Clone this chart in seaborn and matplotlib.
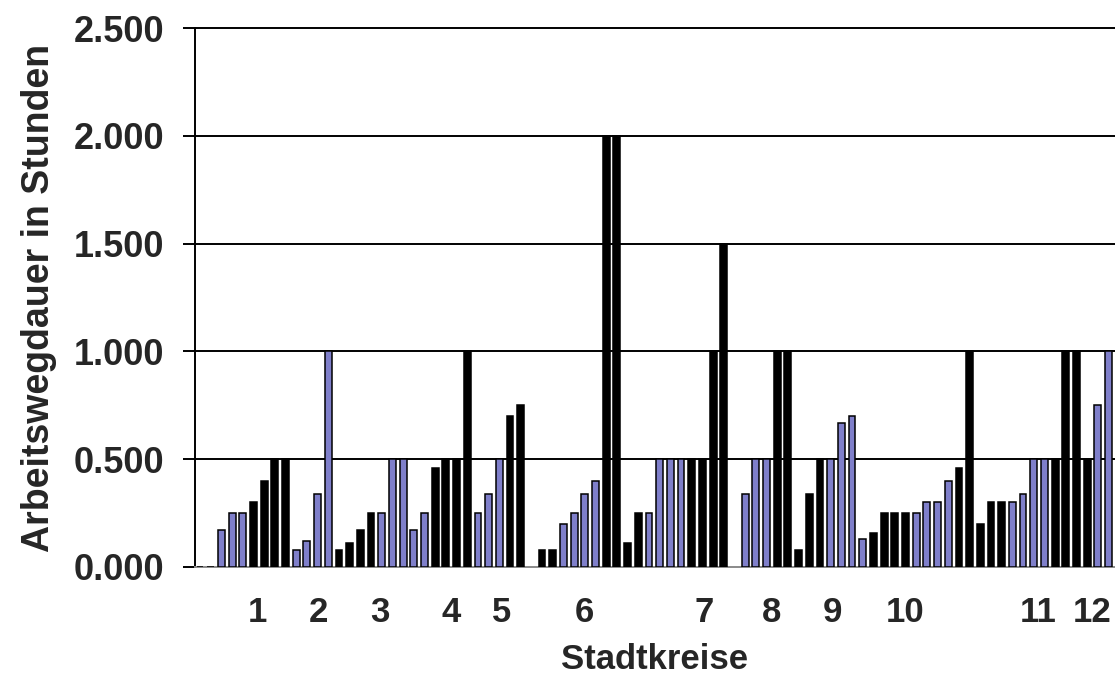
import matplotlib
matplotlib.use("Agg")
import matplotlib.pyplot as plt
import seaborn as sns
import pandas as pd

# Commute durations (hours) per survey slot; slots 31 and 50 are empty separators
slots = list(range(86))
values = [
    0.0, 0.0, 0.17, 0.25, 0.25, 0.30, 0.40, 0.50, 0.50, 0.08,
    0.12, 0.34, 1.00, 0.08, 0.11, 0.17, 0.25, 0.25, 0.50, 0.50,
    0.17, 0.25, 0.46, 0.50, 0.50, 1.00, 0.25, 0.34, 0.50, 0.70,
    0.75, None, 0.08, 0.08, 0.20, 0.25, 0.34, 0.40, 2.00, 2.00,
    0.11, 0.25, 0.25, 0.50, 0.50, 0.50, 0.50, 0.50, 1.00, 1.50,
    None, 0.34, 0.50, 0.50, 1.00, 1.00, 0.08, 0.34, 0.50, 0.50,
    0.67, 0.70, 0.13, 0.16, 0.25, 0.25, 0.25, 0.25, 0.30, 0.30,
    0.40, 0.46, 1.00, 0.20, 0.30, 0.30, 0.30, 0.34, 0.50, 0.50,
    0.50, 1.00, 1.00, 0.50, 0.75, 1.00,
]
# 'b' = blue-filled bar, 'k' = black bar, '-' = empty slot
kinds = (
    "kkbbbkkkkb" "bbbkkkkbbb" "bbkkkkbbbk" "k-kkbbbbkk"
    "kkbbbbkkkk" "-bbbkkkkkb" "bbbkkkkbbb" "bkkkkkbbbb"
    "kkkkbb"
)
district_labels = ["1", "2", "3", "4", "5", "6", "7", "8", "9", "10", "11", "12"]
district_pos = [5.4, 11.1, 16.8, 23.5, 28.2, 36.0, 47.2, 53.5, 59.2, 66.0, 78.4, 83.5]
y_ticks = [0.0, 0.5, 1.0, 1.5, 2.0, 2.5]
y_tick_labels = ["0.000", "0.500", "1.000", "1.500", "2.000", "2.500"]

df = pd.DataFrame({"slot": slots, "value": values, "kind": list(kinds)})
df = df[df["kind"] != "-"].copy()
df["value"] = df["value"].astype(float)

sns.set_style("white")
plt.rcParams["font.family"] = ["Liberation Sans", "DejaVu Sans"]

fig = plt.figure(figsize=(11.15, 6.81), dpi=100)
ax = fig.add_axes([195 / 1115, 114 / 681, 1 - 195 / 1115, 539 / 681])

palette = {"k": "#000000", "b": "#7373d6"}
sns.barplot(
    data=df, x="slot", y="value", hue="kind", order=slots,
    palette=palette, dodge=False, width=0.64, edgecolor="black",
    linewidth=1.1, legend=False, ax=ax, zorder=3,
)

ax.set_xlim(-0.47, 85.6)
ax.set_ylim(0, 2.5)

for y in y_ticks[1:]:
    ax.axhline(y, color="black", lw=1.4, zorder=1, clip_on=False)

ax.set_yticks(y_ticks)
ax.set_yticklabels(y_tick_labels, fontsize=26, fontweight="bold")
ax.set_xticks(district_pos)
ax.set_xticklabels(district_labels, fontsize=25, fontweight="bold")
ax.tick_params(axis="y", length=9, width=1.4, color="black", pad=13, left=True)
ax.tick_params(axis="x", length=0, pad=21)

ax.set_xlabel("Stadtkreise", fontsize=25, fontweight="bold", labelpad=10)
ax.set_ylabel("Arbeitswegdauer in Stunden", fontsize=27, fontweight="bold", labelpad=12)

for side in ("top", "right"):
    ax.spines[side].set_visible(False)
ax.spines["left"].set_color("black")
ax.spines["left"].set_linewidth(1.4)
ax.spines["bottom"].set_color("#8a8a8a")
ax.spines["bottom"].set_linewidth(1.4)

fig.savefig("out.png", dpi=100)
